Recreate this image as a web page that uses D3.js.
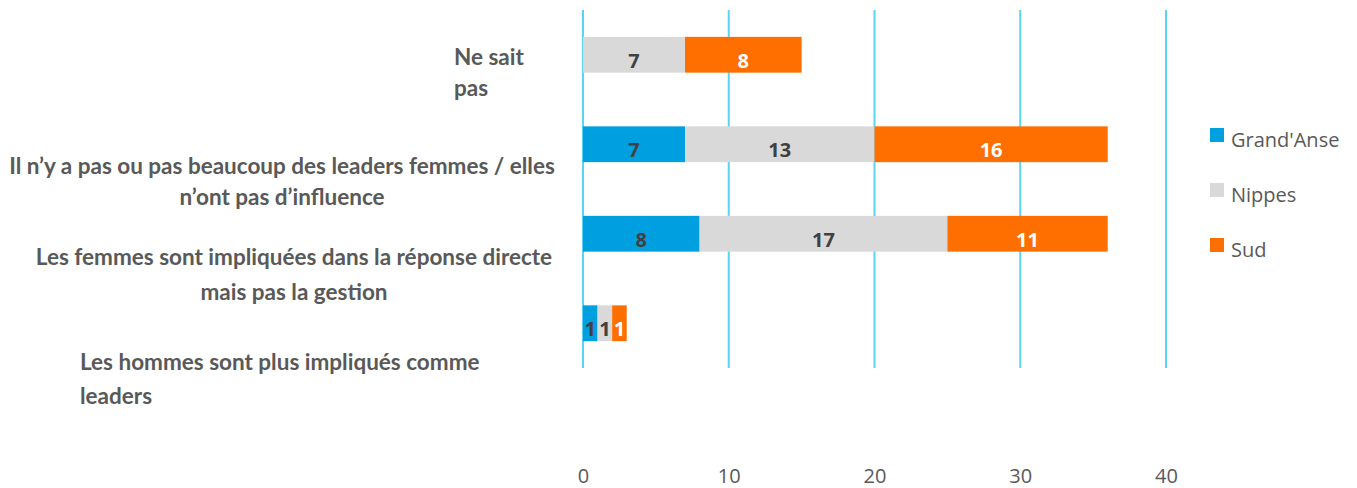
<!DOCTYPE html>
<html>
<head>
<meta charset="utf-8">
<script src="https://cdn.jsdelivr.net/npm/d3@7"></script>
<style>
  body { margin: 0; background: #fff; }
  svg { display: block; }
</style>
</head>
<body>
<script>
var WIDTH = 1357;
var HEIGHT = 488;

// data
var categories = [
  ["Ne sait", "pas"],
  ["Il n\u2019y a pas ou pas beaucoup des leaders femmes / elles", "n\u2019ont pas d\u2019influence"],
  ["Les femmes sont impliquées dans la réponse directe", "mais pas la gestion"],
  ["Les hommes sont plus impliqués comme", "leaders"]
];
var seriesNames = ["Grand'Anse", "Nippes", "Sud"];
var grandAnse = [0, 7, 8, 1];
var nippes = [7, 13, 17, 1];
var sud = [8, 16, 11, 1];
var xTicks = [0, 10, 20, 30, 40];

var colors = ["#009FDF", "#D9D9D9", "#FF6F00"];
var labelColors = ["#404040", "#404040", "#ffffff"];

// label placement, per category (the source chart has them scattered a bit)
var labelLayout = [
  {anchor: "start", x: 454, dy: [10, 41]},
  {anchor: "middle", x: 282, dy: [30, 61]},
  {anchor: "middle", x: 294, dy: [31, 66]},
  {anchor: "start", x: 80, dy: [47, 81]}
];

var translate = function (x, y) {
  return "translate(" + x + "," + y + ")";
};

var rows = categories.map(function (c, i) {
  return {idx: i, "Grand'Anse": grandAnse[i], "Nippes": nippes[i], "Sud": sud[i]};
});

var stack = d3.stack().keys(seriesNames);
var stacked = stack(rows);

var xScale = d3.scaleLinear()
  .domain([0, 40])
  .range([583, 1166]);

var yScale = d3.scaleBand()
  .domain(d3.range(categories.length))
  .range([10, 368])
  .paddingInner(0.6)
  .paddingOuter(0.3);

var svg = d3.select("body").append("svg")
  .attr("width", WIDTH)
  .attr("height", HEIGHT);

// vertical gridlines
svg.append("g").selectAll("line")
  .data(xTicks)
  .enter()
  .append("line")
  .attr("x1", function (d) { return xScale(d); })
  .attr("x2", function (d) { return xScale(d); })
  .attr("y1", 10)
  .attr("y2", 368)
  .attr("stroke", "#5CD2F6")
  .attr("stroke-width", 2);

// bars
var layers = svg.append("g").selectAll("g")
  .data(stacked)
  .enter()
  .append("g")
  .attr("fill", function (d, i) { return colors[i]; });

layers.selectAll("rect")
  .data(function (d) { return d; })
  .enter()
  .append("rect")
  .attr("x", function (d) { return xScale(d[0]); })
  .attr("y", function (d) { return yScale(d.data.idx); })
  .attr("width", function (d) { return xScale(d[1]) - xScale(d[0]); })
  .attr("height", yScale.bandwidth());

// data labels
svg.append("g").selectAll("g")
  .data(stacked)
  .enter()
  .append("g")
  .attr("fill", function (d, i) { return labelColors[i]; })
  .selectAll("text")
  .data(function (d) { return d.filter(function (p) { return p[1] - p[0] > 0; }); })
  .enter()
  .append("text")
  .attr("x", function (d) { return xScale((d[0] + d[1]) / 2); })
  .attr("y", function (d) { return yScale(d.data.idx) + yScale.bandwidth() / 2 + 13; })
  .attr("text-anchor", "middle")
  .style("font-family", "'Open Sans', sans-serif")
  .style("font-weight", "bold")
  .style("font-size", "20px")
  .text(function (d) { return d[1] - d[0]; });

// category labels
var catG = svg.append("g")
  .style("font-family", "Lato, sans-serif")
  .style("font-weight", "bold")
  .style("font-size", "22.5px")
  .attr("fill", "#595959");

categories.forEach(function (lines, i) {
  var lay = labelLayout[i];
  var cy = yScale(i) + yScale.bandwidth() / 2;
  lines.forEach(function (line, j) {
    catG.append("text")
      .attr("x", lay.x)
      .attr("y", cy + lay.dy[j])
      .attr("text-anchor", lay.anchor)
      .text(line);
  });
});

// x tick labels
var xAxis = d3.axisBottom(xScale).tickValues(xTicks).tickSize(0).tickPadding(0);
var axisG = svg.append("g")
  .attr("transform", translate(0, 468))
  .call(xAxis);
axisG.select(".domain").remove();
axisG.selectAll("text")
  .attr("dy", "15px")
  .attr("fill", "#595959")
  .style("font-family", "'Open Sans', sans-serif")
  .style("font-size", "20px");

// legend
var legend = svg.append("g").selectAll("g")
  .data(seriesNames)
  .enter()
  .append("g")
  .attr("transform", function (d, i) { return translate(1210, 128 + i * 55); });

legend.append("rect")
  .attr("width", 14)
  .attr("height", 14)
  .attr("fill", function (d, i) { return colors[i]; });

legend.append("text")
  .attr("x", 21)
  .attr("y", 19)
  .attr("fill", "#595959")
  .style("font-family", "'Open Sans', sans-serif")
  .style("font-size", "20px")
  .text(function (d) { return d; });
</script>
</body>
</html>
